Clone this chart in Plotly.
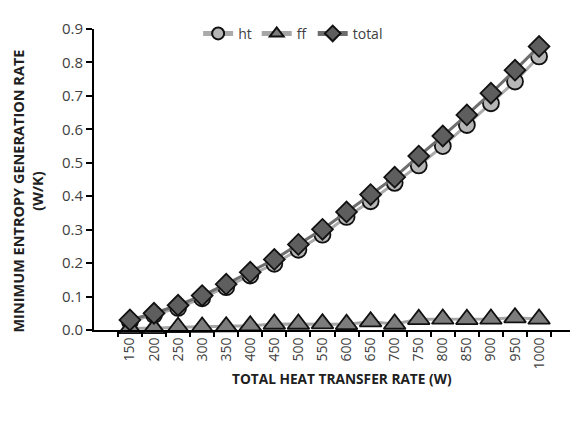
import plotly.graph_objects as go

categories = ["150", "200", "250", "300", "350", "400", "450", "500", "550", "600",
              "650", "700", "750", "800", "850", "900", "950", "1000"]
ht = [0.025, 0.045, 0.066, 0.095, 0.128, 0.163, 0.198, 0.240, 0.285, 0.338,
      0.385, 0.440, 0.492, 0.550, 0.613, 0.678, 0.743, 0.818]
ff = [0.005, 0.005, 0.008, 0.009, 0.010, 0.013, 0.018, 0.018, 0.019, 0.017,
      0.025, 0.018, 0.032, 0.033, 0.032, 0.033, 0.037, 0.033]
total = [0.030, 0.050, 0.074, 0.103, 0.137, 0.173, 0.211, 0.256, 0.301, 0.353,
         0.405, 0.457, 0.520, 0.580, 0.643, 0.708, 0.777, 0.848]

x_title = "TOTAL HEAT TRANSFER RATE (W)"
y_title = "MINIMUM ENTROPY GENERATION RATE<br>(W/K)"

fig = go.Figure()
fig.add_trace(go.Scatter(
    x=categories, y=ht, name="ht", mode="lines+markers", cliponaxis=False,
    line=dict(color="#ababab", width=3),
    marker=dict(symbol="circle", size=16, color="#b6b6b6", line=dict(color="#111", width=1.8)),
))
fig.add_trace(go.Scatter(
    x=categories, y=ff, name="ff", mode="lines+markers", cliponaxis=False,
    line=dict(color="#a6a6a6", width=3),
    marker=dict(symbol="triangle-up", size=19, color="#7c7c7c", line=dict(color="#111", width=1.8)),
))
fig.add_trace(go.Scatter(
    x=categories, y=total, name="total", mode="lines+markers", cliponaxis=False,
    line=dict(color="#6e6e6e", width=3),
    marker=dict(symbol="diamond", size=16, color="#5e5e5e", line=dict(color="#111", width=1.8)),
))

fig.update_layout(
    width=578, height=434,
    margin=dict(l=86, r=11, t=10, b=112),
    paper_bgcolor="white", plot_bgcolor="white",
    font=dict(family="Open Sans, Liberation Sans, sans-serif", color="#404040", size=13),
    showlegend=True,
    legend=dict(orientation="h", x=0.414, xanchor="center", y=0.984, yanchor="middle",
                font=dict(size=14, color="#404040"), bgcolor="rgba(0,0,0,0)",
                itemwidth=30, tracegroupgap=0, itemsizing="constant"),
    xaxis=dict(
        type="category", showgrid=False, zeroline=False, automargin=False,
        showline=True, linecolor="#000", linewidth=2,
        ticks="outside", tickson="boundaries", ticklen=5, tickcolor="#000", tickwidth=1.5,
        tickangle=-90, tickfont=dict(size=14, color="#404040"),
    ),
    yaxis=dict(
        range=[0, 0.9], dtick=0.1, tickformat=".1f", showgrid=False, zeroline=False, automargin=False,
        showline=True, linecolor="#000", linewidth=2,
        ticks="outside", ticklen=6, tickcolor="#000", tickwidth=1.5,
        tickfont=dict(size=15, color="#404040"),
    ),
    annotations=[
        dict(text="<b>" + x_title + "</b>", xref="paper", yref="paper", x=0.5156, y=-0.160,
             xanchor="center", yanchor="middle", showarrow=False,
             font=dict(size=13.7, color="#202020")),
        dict(text="<b>" + y_title + "</b>", xref="paper", yref="paper", x=-0.138, y=0.462,
             xanchor="center", yanchor="middle", showarrow=False, textangle=-90,
             font=dict(size=14.5, color="#202020")),
    ],
)

fig.write_html("out.html")
